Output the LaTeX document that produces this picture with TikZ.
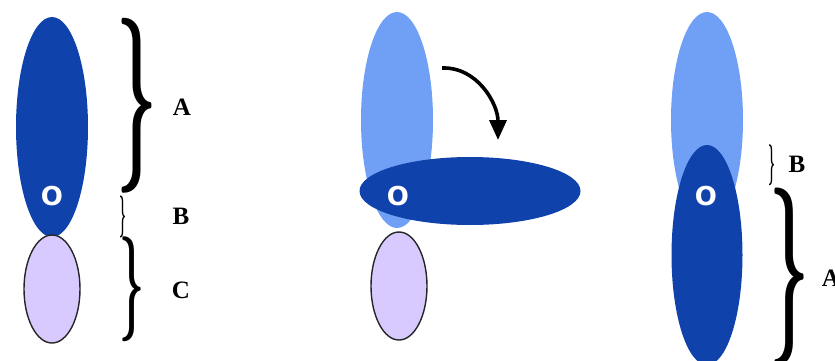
\documentclass[tikz,border=0pt]{standalone}
\usepackage{fontspec}
\usepackage{graphicx}
\usepackage{tikz}
\usetikzlibrary{arrows.meta,positioning,shapes.geometric}
\newfontfamily\lblfont{Liberation Serif}
\newfontfamily\originfont{DejaVu Sans}
\definecolor{lobeDark}{RGB}{16,66,172}
\definecolor{lobeLight}{RGB}{112,160,246}
\definecolor{lobeLilac}{RGB}{216,202,255}
\newcommand{\bracefig}[2]{\resizebox*{#1}{#2}{\boldmath$\}$}}

\begin{document}
\begin{tikzpicture}[x=1pt,y=-1pt,>=Latex,
  lobe/.style={ellipse,inner sep=0pt},
  darklobe/.style={lobe,fill=lobeDark},
  lightlobe/.style={lobe,fill=lobeLight},
  lilaclobe/.style={lobe,fill=lobeLilac,draw=black!85,line width=1.4pt,minimum width=56,minimum height=108},
  origin/.style={text=white,font=\originfont\bfseries\fontsize{26}{28}\selectfont,inner sep=0pt},
  lbl/.style={font=\lblfont\bfseries\fontsize{25}{28}\selectfont,inner sep=0pt},
  brc/.style={inner sep=0pt}]
\useasboundingbox (0,0) rectangle (835,361);
\clip (0,0) rectangle (835,361);
% left: resting arm
\node[darklobe,minimum width=72,minimum height=220] (armL) at (52,127) {};
\node[lilaclobe] (cupL) at (52,289) {};
\node[origin] (oL) at (52,196) {O};
\node[brc] (brA) at (137.5,105.5) {\bracefig{41pt}{175pt}};
\node[brc] (brB) at (122.5,217) {\bracefig{7pt}{42pt}};
\node[brc] (brC) at (132.5,289.5) {\bracefig{25pt}{105pt}};
\node[lbl] (labA) at (182,107) {A};
\node[lbl] (labB) at (181,216) {B};
\node[lbl] (labC) at (181,290) {C};
% middle: arm swung out
\node[lightlobe,minimum width=72,minimum height=216] (ghostM) at (397,120) {};
\node[lilaclobe] (cupM) at (399,286) {};
\node[darklobe,minimum width=221,minimum height=68] (armM) at (470,191) {};
\node[origin] (oM) at (398,196) {O};
\coordinate (turnS) at (442,68);
\coordinate (turnE) at (498,140);
\draw[->,line width=3.6pt,arrows={-Triangle[length=20pt,width=17pt]}]
  (turnS) to[out=2,in=90] (turnE);
% right: arm flipped down
\node[lightlobe,minimum width=72,minimum height=216] (ghostR) at (707,120) {};
\node[darklobe,minimum width=71,minimum height=220] (armR) at (707,255) {};
\node[origin] (oR) at (706,196) {O};
\node[brc] (brBR) at (771.5,165.5) {\bracefig{7pt}{41pt}};
\node[brc] (brAR) at (790,277) {\bracefig{40pt}{178pt}};
\node[lbl] (labBR) at (797,164) {B};
\node[lbl] (labAR) at (831,278) {A};
\end{tikzpicture}
\end{document}
